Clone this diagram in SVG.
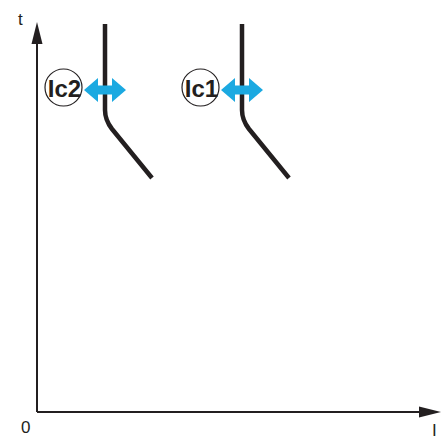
<svg xmlns="http://www.w3.org/2000/svg" width="442" height="441" viewBox="0 0 442 441">
<style>
.axis{stroke:#231f20;stroke-width:2;fill:none}
.curve{stroke:#231f20;stroke-width:4.5;fill:none;stroke-linejoin:round}
.ring{fill:#fff;stroke:#231f20;stroke-width:1.2}
.lbl{font-family:"Liberation Sans",Arial,sans-serif;font-weight:bold;font-size:24px;fill:#231f20;text-anchor:middle}
.ax{font-family:"Liberation Sans",Arial,sans-serif;font-size:17px;fill:#231f20}
.dbl{fill:#1ba9e1}
</style>
<rect width="442" height="441" fill="#fff"/>
<g id="axes">
<path class="axis" d="M37,412 V40 M37,412 H422"/>
<polygon points="37,22 31.5,44 42.5,44" fill="#231f20"/>
<polygon points="441,412 419,406.5 419,417.5" fill="#231f20"/>
<text class="ax" x="18" y="25">t</text>
<text class="ax" x="21" y="433">0</text>
<text class="ax" x="432" y="436">I</text>
</g>
<g id="connectors">
<path class="curve" d="M105,24 V110 Q105,120 112,129 L152,178"/>
<path class="curve" d="M242,24 V110 Q242,120 249,129 L289,178"/>
</g>
<g id="ic2">
<circle class="ring" cx="63.5" cy="87.5" r="18.5"/>
<text class="lbl" x="64.5" y="97">Ic2</text>
<polygon class="dbl" points="84,90 98,78 98,85.5 112,85.5 112,78 126,90 112,102 112,94.5 98,94.5 98,102"/>
</g>
<g id="ic1">
<circle class="ring" cx="200.5" cy="87.5" r="18.5"/>
<text class="lbl" x="201.5" y="97">Ic1</text>
<polygon class="dbl" points="221,90 235,78 235,85.5 249,85.5 249,78 263,90 249,102 249,94.5 235,94.5 235,102"/>
</g>
</svg>
